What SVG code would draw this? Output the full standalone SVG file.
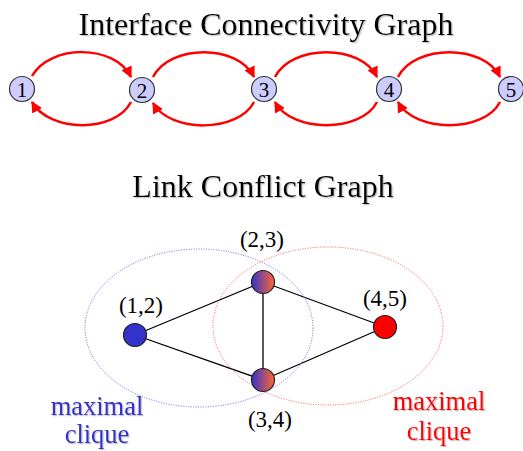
<svg xmlns="http://www.w3.org/2000/svg" width="523" height="451" viewBox="0 0 523 451">
<defs>
<style>
.t{font-family:"Liberation Serif","Times New Roman",serif;fill:#000;text-anchor:middle}
.title{font-size:32px}
.num{font-size:21px}
.lbl{font-size:23px}
.mx{font-size:26.5px}
.inode{fill:#ccccff;stroke:#333;stroke-width:1.2}
.arc{fill:none;stroke:#ff0000;stroke-width:2.5;marker-end:url(#ah)}
.edge{stroke:#000;stroke-width:1.3;fill:none}
.cnode{stroke:#222;stroke-width:1.2}
</style>
<marker id="ah" viewBox="0 0 10 10" refX="9" refY="5" markerWidth="4.5" markerHeight="4.5" orient="auto" markerUnits="strokeWidth">
<path d="M0,0 L10,5 L0,10 z" fill="#ff0000"/>
</marker>
<linearGradient id="g" x1="0" y1="0" x2="1" y2="0">
<stop offset="0" stop-color="#3333cc"/>
<stop offset="1" stop-color="#ff6633"/>
</linearGradient>
<filter id="sh" x="-10%" y="-10%" width="130%" height="140%">
<feDropShadow dx="1.2" dy="1.2" stdDeviation="0.6" flood-color="#999" flood-opacity="0.6"/>
</filter>
</defs>
<rect width="523" height="451" fill="#fff"/>

<text class="t title" x="266" y="35" filter="url(#sh)">Interface Connectivity Graph</text>
<text class="t title" x="263" y="197" filter="url(#sh)">Link Conflict Graph</text>

<g id="connectors">
<path class="arc" d="M32,76 C50,44 115,44 131,77"/>
<path class="arc" d="M131,102 C115,133 50,133 32,102"/>
<path class="arc" d="M153,77 C170,44 238,44 254,77"/>
<path class="arc" d="M254,102 C238,133 170,133 153,103"/>
<path class="arc" d="M275,77 C292,44 361,44 377,77"/>
<path class="arc" d="M377,102 C361,133 292,133 275,102"/>
<path class="arc" d="M398,77 C415,44 484,44 500,77"/>
<path class="arc" d="M500,102 C484,133 415,133 398,102"/>
<line class="edge" x1="135" y1="335" x2="263" y2="282"/>
<line class="edge" x1="135" y1="335" x2="263" y2="380"/>
<line class="edge" x1="263" y1="282" x2="263" y2="380"/>
<line class="edge" x1="263" y1="282" x2="385" y2="327"/>
<line class="edge" x1="263" y1="380" x2="385" y2="327"/>
</g>

<g id="clique-blue">
<ellipse cx="199" cy="328" rx="114" ry="79" fill="none" stroke="#6666ee" stroke-width="1" stroke-dasharray="1,1.5"/>
<text class="t mx" x="97" y="415" style="fill:#3333cc" filter="url(#sh)">maximal</text>
<text class="t mx" x="97" y="443" style="fill:#3333cc" filter="url(#sh)">clique</text>
</g>
<g id="clique-red">
<ellipse cx="328" cy="326" rx="115" ry="79" fill="none" stroke="#ff5555" stroke-width="1" stroke-dasharray="1,1.5"/>
<text class="t mx" x="439" y="410" style="fill:#ff0000" filter="url(#sh)">maximal</text>
<text class="t mx" x="439" y="440" style="fill:#ff0000" filter="url(#sh)">clique</text>
</g>

<g id="n1"><circle class="inode" cx="22" cy="89" r="12.5"/><text class="t num" x="22" y="97">1</text></g>
<g id="n2"><circle class="inode" cx="142" cy="90" r="12.5"/><text class="t num" x="142" y="98">2</text></g>
<g id="n3"><circle class="inode" cx="264" cy="89" r="12.5"/><text class="t num" x="264" y="97">3</text></g>
<g id="n4"><circle class="inode" cx="389" cy="89" r="12.5"/><text class="t num" x="389" y="97">4</text></g>
<g id="n5"><circle class="inode" cx="511" cy="89" r="12.5"/><text class="t num" x="511" y="97">5</text></g>

<g id="l12"><circle class="cnode" cx="135" cy="335" r="11.5" fill="#3333cc"/><text class="t lbl" x="141" y="313">(1,2)</text></g>
<g id="l23"><circle class="cnode" cx="263" cy="282" r="11.5" fill="url(#g)"/><text class="t lbl" x="262" y="247">(2,3)</text></g>
<g id="l34"><circle class="cnode" cx="263" cy="380" r="11.5" fill="url(#g)"/><text class="t lbl" x="270" y="427">(3,4)</text></g>
<g id="l45"><circle class="cnode" cx="385" cy="327" r="11.5" fill="#ff0000"/><text class="t lbl" x="385" y="306">(4,5)</text></g>
</svg>
